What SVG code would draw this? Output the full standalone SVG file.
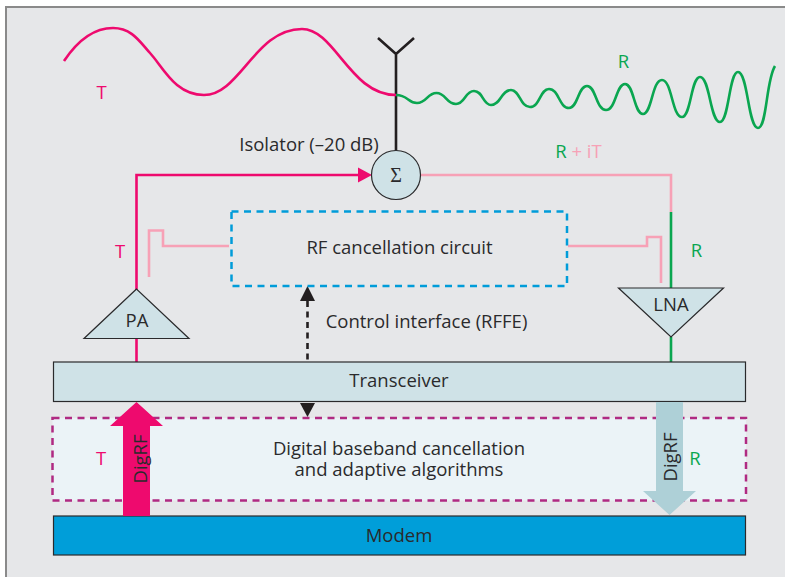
<svg xmlns="http://www.w3.org/2000/svg" width="785" height="577" viewBox="0 0 785 577">
<style>
text{font-family:"Open Sans","Noto Sans","Liberation Sans",sans-serif;font-size:18.5px;fill:#2a2a2c;text-anchor:middle}
.pk{fill:#ee0a6e}.gn{fill:#0aa650}.lp{fill:#f7a1b6}
.line{fill:none;stroke-linejoin:miter}
.pkl{stroke:#ee0a6e;stroke-width:2.6}.lpl{stroke:#f7a1b6;stroke-width:2.6}.gnl{stroke:#0aa650;stroke-width:2.6}
.nd{fill:#cfe2e7;stroke:#2a2a2c;stroke-width:1.2}
</style>
<rect x="6" y="7" width="785" height="580" fill="#e6e7e9" stroke="#8a8a8a" stroke-width="2"/>
<g id="connectors">
<path class="line pkl" d="M136.500 362V175H360"/>
<polygon class="pk" points="372,175 358,167.500 358,182.500"/>
<path class="line" stroke="#231f20" stroke-width="2.600" d="M396 151V54M378 38L396 54L414 38"/>
<path class="line lpl" d="M420 175H671V212"/>
<path class="line gnl" d="M671 212V289M671 337V362"/>
<path class="line lpl" d="M149 277V230.500H163V246H229"/>
<path class="line lpl" d="M568 246H647V237H661V283"/>
<path class="line" stroke="#231f20" stroke-width="2.600" stroke-dasharray="6 4.500" d="M307.500 301V404"/>
<polygon fill="#231f20" points="307.500,286 300,301 315,301"/>
<polygon fill="#231f20" points="307.500,417 300,403 315,403"/>
<path class="line pkl" stroke-width="3" d="M64 61C78 40 95 28 113 28C132 28 140 42 150 53C163 67 175 95 204 95C240 95 255 29 302 29C335 29 350 95 396 95"/>
<path class="line gnl" d="M396 95C408 95 408 103 417 103C427 103 427 93 436.500 93C446 93 446 104 456 104C465 104 465 91 474 91C483 91 483 105 491 105C501 105 501 90 511 90C520 90 520 107 530 107C540 107 540 89 549 89C559 89 559 108 569 108C578 108 578 86 587 86C596 86 596 110 606 110C616 110 616 84 625 84C634 84 634 114 643 114C652 114 652 80 662 80C672 80 672 117 682 117C691 117 691 77 700 77C710 77 710 122 720 122C729 122 729 72 738 72C748 72 748 128 758 128C767 128 766 80 775 66"/>
</g>
<g id="baseband"><rect x="52.500" y="418" width="693.500" height="82.500" fill="#ebf3f7" stroke="#b02a82" stroke-width="2.500" stroke-dasharray="7 5.500"/>
<text x="399" y="455">Digital baseband cancellation</text><text x="399" y="476">and adaptive algorithms</text></g>
<g id="rf-cancellation"><rect x="231.500" y="211.500" width="335.500" height="74.500" fill="none" stroke="#009cd9" stroke-width="2.500" stroke-dasharray="7 5.500"/>
<text x="399.500" y="254">RF cancellation circuit</text></g>
<g id="sum"><circle class="nd" cx="396" cy="175" r="24.500"/><text x="396" y="182" style="font-family:'Liberation Serif',serif;font-size:20px">Σ</text></g>
<g id="pa"><polygon class="nd" points="136.500,289 84,338.500 189,338.500"/><text x="137" y="327">PA</text></g>
<g id="lna"><polygon class="nd" points="618.500,288 723.500,288 671,337"/><text x="671" y="311">LNA</text></g>
<g id="transceiver"><rect class="nd" x="53.500" y="362" width="692" height="39.500"/><text x="399" y="387">Transceiver</text></g>
<g id="modem"><rect x="53.500" y="516" width="692" height="39" fill="#009ed9" stroke="#2a2a2c" stroke-width="1.200"/><text x="399" y="542">Modem</text></g>
<g id="digrf-t"><polygon class="pk" points="136.500,402 163,426 150,426 150,516 123,516 123,426 110,426"/><text transform="translate(146.500 459) rotate(-90)">DigRF</text></g>
<g id="digrf-r"><polygon fill="#aed0d7" points="656,402 683,402 683,491 696,491 669.500,515 643,491 656,491"/><text transform="translate(676.500 457) rotate(-90)">DigRF</text></g>
<g id="labels">
<text class="pk" x="101.500" y="99">T</text>
<text class="gn" x="623.500" y="68">R</text>
<text x="309" y="151">Isolator (–20 dB)</text>
<text x="578.500" y="158"><tspan class="gn">R</tspan><tspan class="lp"> + iT</tspan></text>
<text class="pk" x="120" y="258">T</text>
<text class="gn" x="696.500" y="257">R</text>
<text x="426.500" y="328">Control interface (RFFE)</text>
<text class="pk" x="101" y="465">T</text>
<text class="gn" x="695" y="465">R</text>
</g>
</svg>
